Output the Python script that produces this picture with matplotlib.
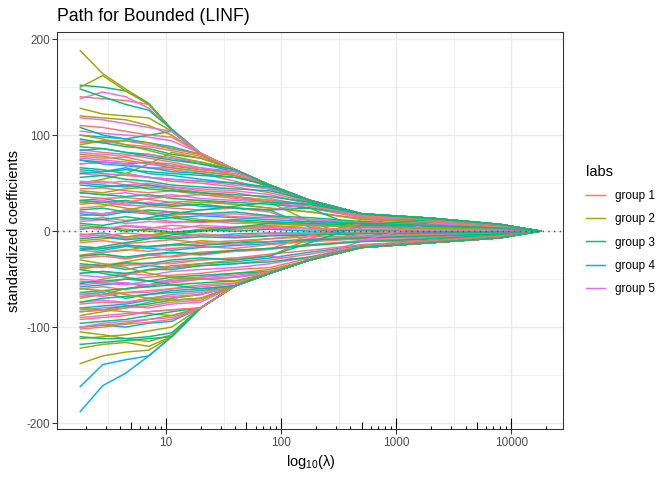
import matplotlib
matplotlib.use('Agg')
import matplotlib.pyplot as plt
import matplotlib.transforms as mtransforms
from matplotlib.lines import Line2D

plt.rcParams['font.family'] = ['Liberation Sans', 'DejaVu Sans']
plt.rcParams['mathtext.default'] = 'regular'

lambdas = [1.8, 2.82, 4.47, 7.08, 11.2, 20.0, 39.8, 79.4, 178, 501, 1995, 7943, 17870]

group1 = [
    [140, 138, 136, 132, 106, 81, 64, 48, 32, 18, 13, 7, 0],
    [92, 94, 90, 88, 84, 78, 64, 48, 32, 18, 13, 7, 0],
    [85, 82, 80, 76, 72, 66, 58, 46, 31, 17, 13, 7, 0],
    [70, 72, 70, 66, 64, 60, 52, 44, 30, 17, 12, 6, 0],
    [62, 60, 58, 56, 52, 50, 46, 40, 30, 16, 12, 6, 0],
    [52, 50, 52, 48, 46, 42, 40, 34, 26, 15, 11, 6, 0],
    [44, 45, 42, 40, 42, 38, 34, 30, 24, 14, 10, 5, 0],
    [36, 34, 35, 33, 30, 32, 28, 24, 20, 12, 9, 5, 0],
    [28, 30, 27, 26, 24, 22, 24, 20, 6, -8, -10, -5, 0],
    [20, 18, 21, 19, 17, 18, 15, 14, 12, 8, 6, 3, 0],
    [12, 14, 11, 13, 10, 9, 11, 8, 7, 5, 4, 2, 0],
    [4, 2, 5, 3, 6, 4, 3, 5, 3, 2, 2, 1, 0],
    [-3, -5, -2, -4, -6, -3, -5, -2, -3, -2, -1, -1, 0],
    [-12, -10, -13, -11, -9, -12, -10, -8, -6, -5, -3, -2, 0],
    [-20, -22, -19, -21, -18, -16, -18, -14, -11, -8, -6, -3, 0],
    [-28, -26, -29, -25, -27, -23, -21, -19, -4, 8, 10, 4, 0],
    [-36, -38, -34, -36, -32, -30, -28, -24, -20, -14, -10, -5, 0],
    [-44, -42, -45, -41, -38, -36, -34, -30, -24, -16, -11, -6, 0],
    [-52, -54, -50, -48, -46, -44, -40, -38, -28, -17, -12, -7, 0],
    [-60, -58, -61, -56, -54, -50, -48, -42, -30, -17, -12, -7, 0],
    [-68, -66, -64, -62, -60, -56, -54, -44, -30, -17, -12, -7, 0],
    [-76, -74, -75, -70, -66, -64, -57, -44, -30, -17, -12, -7, 0],
    [-84, -82, -80, -78, -74, -72, -57, -44, -30, -17, -12, -7, 0],
    [-92, -90, -88, -84, -82, -80, -57, -44, -30, -17, -12, -7, 0],
    [110, 108, 104, 100, 98, 81, 64, 48, 32, 18, 13.5, 7, 0],
    [78, 76, 77, 72, 70, 64, 60, 48, 32, 18, 13, 7, 0],
    [-102, -100, -97, -95, -92, -80, -57, -44, -30, -17, -12, -7, 0],
    [24, 26, 30, 34, 36, 38, 36, 32, 26, 16, 12, 6, 0],
]
group2 = [
    [188, 164, 148, 133, 106, 81, 64, 48, 32, 18, 13.5, 7, 0],
    [150, 162, 146, 132, 105, 80, 63, 48, 32, 18, 13, 7, 0],
    [128, 122, 120, 118, 104, 80, 64, 48, 32, 18, 13, 7, 0],
    [90, 94, 94, 92, 86, 80, 64, 48, 32, 18, 13, 7, 0],
    [50, 54, 60, 70, 82, 76, 64, 48, 32, 18, 13, 7, 0],
    [80, 78, 74, 70, 66, 62, 58, 46, 30, 17, 12, 6, 0],
    [42, 40, 44, 46, 44, 40, 36, 30, 10, -10, -11, -6, 0],
    [16, 18, 22, 26, 28, 30, 28, 24, 20, 13, 9, 5, 0],
    [6, 4, 2, 0, -2, 2, 4, 6, 8, 6, 5, 3, 0],
    [-10, -8, -6, -4, -2, 0, 2, 4, 6, 4, 3, 2, 0],
    [-25, -22, -20, -16, -14, -10, -12, -8, -4, -2, -1, -1, 0],
    [-40, -36, -32, -28, -26, -22, -20, -18, -14, -10, -8, -4, 0],
    [-55, -50, -46, -40, -36, -34, -30, -26, -8, 12, 12, 6, 0],
    [-70, -66, -60, -56, -50, -48, -44, -40, -30, -17, -12, -7, 0],
    [-88, -84, -80, -74, -70, -66, -57, -44, -30, -17, -12, -7, 0],
    [-100, -98, -96, -92, -88, -80, -57, -44, -30, -17, -12, -7, 0],
    [-112, -110, -108, -104, -100, -80, -57, -44, -30, -17, -12, -7, 0],
    [-138, -130, -126, -124, -110, -80, -57, -44, -30, -17, -12, -7, 0],
    [-122, -118, -116, -120, -110, -80, -57, -44, -30, -17, -12, -7, 0],
    [-105, -108, -112, -115, -108, -80, -57, -44, -30, -17, -12, -7, 0],
    [-80, -82, -84, -86, -88, -80, -57, -44, -30, -17, -12, -7, 0],
    [120, 118, 116, 110, 100, 81, 64, 48, 32, 18, 13, 7, 0],
    [100, 96, 90, 84, 78, 72, 64, 48, 32, 18, 13, 7, 0],
    [-60, -62, -66, -70, -72, -70, -57, -44, -30, -17, -12, -7, 0],
    [30, 28, 24, 20, 16, 12, 10, 8, 6, 4, 3, 2, 0],
    [-30, -34, -38, -44, -48, -50, -52, -44, -30, -17, -12, -7, 0],
]
group3 = [
    [152, 150, 146, 133, 106, 81, 64, 48, 32, 18, 13.5, 7, 0],
    [148, 140, 132, 126, 106, 81, 64, 48, 32, 18, 13.5, 7, 0],
    [108, 100, 96, 100, 104, 81, 64, 48, 32, 18, 13.5, 7, 0],
    [96, 92, 88, 86, 80, 76, 64, 48, 32, 18, 13.5, 7, 0],
    [74, 72, 70, 72, 68, 64, 62, 48, 32, 18, 13.5, 7, 0],
    [66, 64, 60, 56, 54, 52, 50, 46, 32, 18, 13.5, 7, 0],
    [56, 58, 54, 52, 48, 46, 44, 42, 32, 18, 13.5, 7, 0],
    [48, 46, 48, 44, 42, 40, 38, 36, 30, 18, 13.5, 7, 0],
    [40, 38, 36, 38, 34, 32, 30, 28, 24, 17, 13, 7, 0],
    [32, 30, 32, 28, 26, 28, 24, 22, 24, 2, -10, -5, 0],
    [22, 24, 20, 22, 20, 18, 20, 16, 14, 10, 8, 4, 0],
    [14, 12, 15, 12, 14, 10, 12, 10, 8, 6, 5, 3, 0],
    [2, 4, 0, 2, -1, 1, 0, 2, 0, 1, 0, 0, 0],
    [-8, -6, -9, -7, -8, -6, -7, -5, -4, -3, -2, -1, 0],
    [-16, -18, -15, -16, -14, -15, -12, -11, -9, -7, -5, -3, 0],
    [-26, -24, -27, -24, -22, -24, -20, -18, -15, -11, -8, -4, 0],
    [-34, -36, -33, -34, -30, -28, -30, -26, -12, 6, 12, 6, 0],
    [-44, -42, -44, -40, -40, -36, -34, -32, -27, -17, -12, -7, 0],
    [-54, -52, -50, -52, -48, -46, -44, -42, -30, -17, -12, -7, 0],
    [-64, -62, -60, -58, -56, -54, -52, -44, -30, -17, -12, -7, 0],
    [-74, -70, -68, -66, -62, -60, -57, -44, -30, -17, -12, -7, 0],
    [-84, -82, -78, -76, -72, -70, -57, -44, -30, -17, -12, -7, 0],
    [-96, -94, -92, -88, -84, -80, -57, -44, -30, -17, -12, -7, 0],
    [-110, -112, -112, -110, -106, -80, -57, -44, -30, -17, -12, -7, 0],
    [-118, -116, -114, -112, -110, -80, -57, -44, -30, -17, -12, -7, 0],
    [88, 86, 82, 78, 74, 70, 64, 48, 32, 18, 13.5, 7, 0],
    [60, 62, 64, 62, 60, 58, 56, 48, 32, 18, 13.5, 7, 0],
    [-40, -44, -48, -52, -56, -60, -57, -44, -30, -17, -12, -7, 0],
    [8, 6, 10, 14, 18, 22, 26, 30, 28, 18, 13, 7, 0],
    [-20, -16, -12, -8, -4, 0, 4, 8, 10, 8, 6, 3, 0],
]
group4 = [
    [-188, -161, -148, -130, -110, -80, -57, -44, -30, -17, -12, -7, 0],
    [-162, -139, -134, -130, -110, -80, -57, -44, -30, -17, -12, -7, 0],
    [100, 98, 96, 92, 88, 80, 64, 48, 32, 18, 13, 7, 0],
    [84, 86, 82, 80, 76, 70, 62, 48, 32, 18, 13, 7, 0],
    [64, 62, 66, 60, 58, 54, 50, 44, 32, 18, 13, 7, 0],
    [50, 48, 46, 48, 44, 40, 36, 32, 28, 17, 12, 6, 0],
    [32, 34, 30, 28, 30, 26, 24, 22, 4, -6, 4, 2, 0],
    [18, 16, 20, 18, 14, 16, 14, 12, 10, 7, 5, 3, 0],
    [-4, -2, -6, -4, -2, -5, -3, -2, -2, -1, -1, 0, 0],
    [-18, -20, -16, -18, -20, -17, -15, -13, -10, -7, -5, -3, 0],
    [-38, -36, -40, -36, -38, -34, -32, -28, -22, -15, -10, -5, 0],
    [-58, -56, -54, -58, -52, -50, -48, -44, -30, -17, -12, -7, 0],
    [-80, -78, -76, -72, -70, -66, -57, -44, -30, -17, -12, -7, 0],
    [-100, -98, -100, -96, -94, -80, -57, -44, -30, -17, -12, -7, 0],
    [74, 70, 68, 66, 62, 60, 56, 48, 32, 18, 13, 7, 0],
    [-66, -64, -70, -66, -64, -62, -57, -44, -30, -17, -12, -7, 0],
]
group5 = [
    [138, 145, 140, 128, 106, 81, 64, 48, 32, 18, 13, 7, 0],
    [104, 102, 100, 98, 94, 81, 64, 48, 32, 18, 13, 7, 0],
    [94, 92, 94, 90, 86, 80, 64, 48, 32, 18, 13, 7, 0],
    [82, 80, 78, 80, 76, 72, 64, 48, 32, 18, 13, 7, 0],
    [70, 72, 70, 66, 66, 62, 58, 48, 32, 18, 13, 7, 0],
    [60, 58, 60, 56, 54, 52, 48, 44, 31, 18, 13, 7, 0],
    [50, 52, 48, 50, 46, 44, 42, 38, 28, 17, 12, 6, 0],
    [40, 38, 40, 36, 38, 34, 32, 30, 24, 15, 11, 6, 0],
    [30, 32, 28, 30, 26, 28, 24, 22, 28, 17, -8, -4, 0],
    [20, 18, 22, 18, 20, 17, 18, 15, 12, 9, 7, 4, 0],
    [10, 12, 8, 10, 9, 11, 8, 9, 7, 5, 4, 2, 0],
    [-6, -4, -8, -5, -7, -4, -6, -4, -3, -2, -2, -1, 0],
    [-16, -18, -14, -17, -15, -13, -14, -11, -8, -6, -4, -2, 0],
    [-26, -24, -28, -25, -23, -25, -21, -19, -15, -10, -7, -4, 0],
    [-36, -34, -36, -33, -34, -30, -28, -26, -30, -10, 8, 5, 0],
    [-46, -48, -44, -46, -42, -40, -38, -34, -27, -16, -11, -6, 0],
    [-56, -54, -56, -52, -52, -48, -46, -42, -30, -17, -12, -7, 0],
    [-66, -68, -64, -64, -60, -58, -55, -44, -30, -17, -12, -7, 0],
    [-74, -72, -74, -70, -68, -66, -57, -44, -30, -17, -12, -7, 0],
    [-82, -80, -78, -80, -76, -74, -57, -44, -30, -17, -12, -7, 0],
    [-90, -88, -86, -84, -82, -80, -57, -44, -30, -17, -12, -7, 0],
    [-100, -96, -94, -92, -90, -80, -57, -44, -30, -17, -12, -7, 0],
    [118, 116, 112, 108, 104, 81, 64, 48, 32, 18, 13, 7, 0],
    [76, 74, 72, 70, 68, 66, 62, 48, 32, 18, 13, 7, 0],
    [-50, -52, -54, -56, -52, -50, -48, -44, -30, -17, -12, -7, 0],
    [4, 2, 6, 4, 2, 6, 4, 3, 2, 2, 1, 1, 0],
]

group_names = ['group 1', 'group 2', 'group 3', 'group 4', 'group 5']
group_colors = ['#F8766D', '#A3A500', '#00BF7D', '#00B0F6', '#E76BF3']
groups = [group1, group2, group3, group4, group5]

fig = plt.figure(figsize=(7, 5), dpi=96)
ax = fig.add_axes([0.0853, 0.1056, 0.7530, 0.8278])

ax.set_xscale('log')
ax.set_xlim(10 ** 0.0556, 10 ** 4.452)
ax.set_ylim(-206.5, 207.5)

# grid like theme_bw
for v in [10 ** 0.5, 10 ** 1.5, 10 ** 2.5, 10 ** 3.5]:
    ax.axvline(v, color='#EBEBEB', lw=0.53, zorder=0)
for v in [-150, -50, 50, 150]:
    ax.axhline(v, color='#EBEBEB', lw=0.53, zorder=0)
for v in [10, 100, 1000, 10000]:
    ax.axvline(v, color='#EBEBEB', lw=1.07, zorder=0)
for v in [-200, -100, 0, 100, 200]:
    ax.axhline(v, color='#EBEBEB', lw=1.07, zorder=0)

# interleave the groups when drawing, one path per variable
n_max = max(len(g) for g in groups)
for i in range(n_max):
    for g, col in zip(groups, group_colors):
        if i < len(g):
            ax.plot(lambdas, g[i], color=col, lw=1.1, solid_joinstyle='round', zorder=2)

ax.axhline(0, color='#555555', lw=1.07, ls=(0, (1, 3)), zorder=3)

# annotation_logticks at the bottom
trans = mtransforms.blended_transform_factory(ax.transData, ax.transAxes)
ax_h_px = 0.8278 * 480
for e in range(0, 5):
    for k in range(1, 10):
        x = k * 10 ** e
        if x < 10 ** 0.0556 or x > 10 ** 4.452:
            continue
        if k == 1:
            ln = 11.3
        elif k == 5:
            ln = 7.56
        else:
            ln = 3.78
        ax.plot([x, x], [0, ln / ax_h_px], color='black', lw=0.8, transform=trans,
                zorder=4, clip_on=False, solid_capstyle='butt')

ax.set_xticks([10, 100, 1000, 10000])
ax.set_xticklabels(['10', '100', '1000', '10000'])
ax.xaxis.set_minor_locator(matplotlib.ticker.NullLocator())
ax.set_yticks([-200, -100, 0, 100, 200])
ax.set_yticklabels(['-200', '-100', '0', '100', '200'])
ax.tick_params(axis='both', length=3.67, width=0.8, color='#333333',
               labelsize=8.8, labelcolor='#4D4D4D', pad=2)

for sp in ax.spines.values():
    sp.set_color('#333333')
    sp.set_linewidth(0.8)

ax.set_xlabel('log$_{10}$(λ)', fontsize=11, labelpad=3)
ax.set_ylabel('standardized coefficients', fontsize=11, labelpad=4)
ax.set_title('Path for Bounded (LINF)', fontsize=13.2, loc='left', pad=8)

handles = [Line2D([0], [0], color=c, lw=1.1) for c in group_colors]
leg = fig.legend(handles, group_names, title='labs', loc='upper left',
                 bbox_to_anchor=(0.857, 0.678), frameon=False, fontsize=8.8,
                 title_fontsize=11, handlelength=1.6, handletextpad=0.8,
                 labelspacing=0.95, alignment='left')

fig.savefig('out.png', dpi=96)
plt.close(fig)
